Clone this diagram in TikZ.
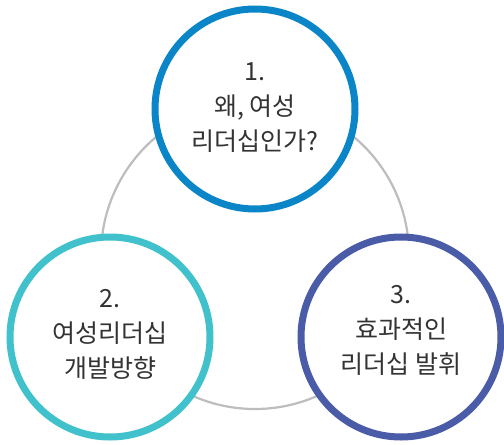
\documentclass[tikz,border=0pt]{standalone}
\usepackage{fontspec}
\setmainfont{Noto Sans CJK KR}
\usepackage{xcolor}
\usepackage{tikz}
\definecolor{ink}{HTML}{333333}
\definecolor{ringgray}{HTML}{BDBDBF}
\definecolor{blueone}{HTML}{0A86C8}
\definecolor{cyantwo}{HTML}{41C1CB}
\definecolor{indigothree}{HTML}{4A5BA8}
\tikzset{
  ring/.style={draw=ringgray, line width=2.2pt},
  bubble/.style={circle, fill=white, line width=7pt, minimum size=200pt, inner sep=0pt},
  lab/.style={text=ink, align=center, font=\fontsize{25}{35}\selectfont},
}
\begin{document}
\begin{tikzpicture}[x=1pt,y=-1pt]
  \useasboundingbox (0,0) rectangle (504,445);
  \coordinate (O) at (255,255);
  \draw[ring] (O) circle (154);
  \node[bubble,draw=blueone] (one) at (255,109) {};
  \node[bubble,draw=cyantwo] (two) at (110,337) {};
  \node[bubble,draw=indigothree] (three) at (401,337) {};
  \node[lab] (t1) at ([yshift=1pt]one.center) {1.\\왜, 여성\\리더십인가?};
  \node[lab] (t2) at ([yshift=3pt]two.center) {2.\\여성리더십\\개발방향};
  \node[lab] (t3) at ([yshift=7pt]three.center) {3.\\효과적인\\리더십 발휘};
\end{tikzpicture}
\end{document}
